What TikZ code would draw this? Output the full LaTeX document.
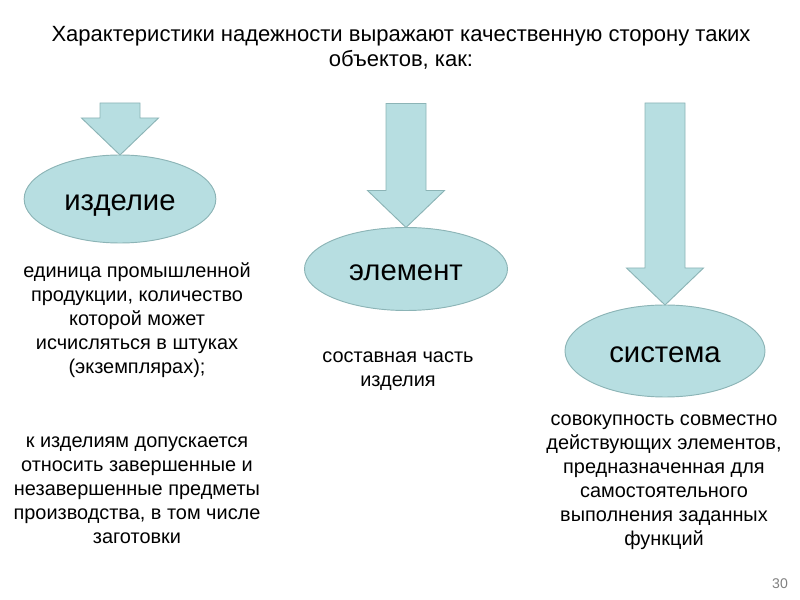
\documentclass[tikz,border=0pt]{standalone}
\usepackage{fontspec}
\setmainfont{Liberation Sans}
\usetikzlibrary{calc, positioning, shapes.geometric}

\definecolor{boxfill}{HTML}{B7DEE1}
\definecolor{boxline}{HTML}{8CB4B6}

% block arrow ending on the top of a node
\newcommand{\blockarrow}[2]{%
  \filldraw[arrowbody]
    ($(#1.north)+(-20,-#2)$) -- ($(#1.north)+(20,-#2)$)
    -- ($(#1.north)+(20,-37)$) -- ($(#1.north)+(38.5,-37)$)
    -- (#1.north)
    -- ($(#1.north)+(-38.5,-37)$) -- ($(#1.north)+(-20,-37)$) -- cycle;}

\begin{document}
\begin{tikzpicture}[x=0.03cm, y=-0.03cm,
every node/.style = {align=center, inner sep=0pt},
object/.style = {ellipse, draw=boxline, fill=boxfill, line width=0.8pt,
                 outer sep=0pt, text height=20pt, text depth=0pt,
                 font=\fontsize{25}{28}\selectfont},
arrowbody/.style = {draw=boxline, fill=boxfill, line width=0.8pt},
note/.style = {font=\fontsize{17}{20.5}\selectfont},
                    ]
\useasboundingbox (0,0) rectangle (800,600);

\node (title) [font=\fontsize{18.8}{21.3}\selectfont] at (401,48)
  {Характеристики надежности выражают качественную сторону таких \\ объектов, как:};

\node (izd)  [object, minimum width=5.75cm, minimum height=2.64cm] at (120,199) {изделие};
\node (elem) [object, minimum width=6.09cm, minimum height=2.49cm] at (406,269) {элемент};
\node (sys)  [object, minimum width=6cm,    minimum height=2.76cm] at (665,351) {система};

\blockarrow{izd}{52}
\blockarrow{elem}{124}
\blockarrow{sys}{202}

\node (izd_def) [note] at (137,320)
  {единица промышленной \\ продукции, количество \\ которой может \\
   исчисляться в штуках \\ (экземплярах);};
\node (izd_add) [note] at (137,490)
  {к изделиям допускается \\ относить завершенные и \\
   незавершенные предметы \\ производства, в том числе \\ заготовки};
\node (elem_def) [note] at (398,371) {составная часть \\ изделия};
\node (sys_def)  [note] at (664,482)
  {совокупность совместно \\ действующих элементов, \\
   предназначенная для \\ самостоятельного \\
   выполнения заданных \\ функций};

\node (page) [font=\fontsize{12}{14}\selectfont, text=gray] at (780,584) {30};
\end{tikzpicture}
\end{document}
